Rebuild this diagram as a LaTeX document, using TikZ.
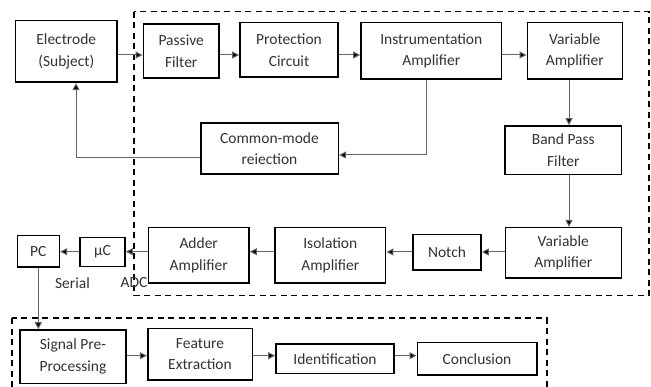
\documentclass[tikz,border=0pt]{standalone}
\usepackage{fontspec}
\setmainfont{Carlito}
\usetikzlibrary{arrows.meta}
\begin{document}
\begin{tikzpicture}[x=1pt,y=-1pt,
  box/.style={draw=black, line width=1.6pt, rectangle, align=center, inner sep=0pt,
    font=\fontsize{15.5}{21.5}\selectfont, text=black!80},
  conn/.style={draw=black!60, line width=1pt, -{Triangle[length=7pt,width=7pt,fill=black]}},
  dbox/.style={draw=black, line width=1.6pt, dash pattern=on 6pt off 4.5pt},
  lbl/.style={font=\fontsize{15.5}{21.5}\selectfont, text=black!80, inner sep=0pt}]
\clip (0,0) rectangle (651,387);
\fill[white] (0,0) rectangle (651,387);
% dashed groups
\draw[dbox] (134,11.7) rectangle (649,295.5);
\draw[dbox] (11.7,318.3) rectangle (546.7,400);
% boxes
\node[box, minimum width=101.3pt, minimum height=61.6pt] (el) at (66.3,51.5) {Electrode\\(Subject)};
\node[box, minimum width=75.7pt, minimum height=54pt] (pf) at (181.2,51.3) {Passive\\Filter};
\node[box, minimum width=98pt, minimum height=54.6pt] (pc1) at (289,50) {Protection\\Circuit};
\node[box, minimum width=140.7pt, minimum height=56.3pt] (ia) at (431.3,50.8) {Instrumentation\\Amplifier};
\node[box, minimum width=95pt, minimum height=56.3pt] (va1) at (574.8,50.8) {Variable\\Amplifier};
\node[box, minimum width=116.7pt, minimum height=48.3pt] (bp) at (563.3,150.2) {Band Pass\\Filter};
\node[box, minimum width=137.6pt, minimum height=51pt] (cm) at (269.5,148.8) {Common-mode\\reiection};
\node[box, minimum width=116pt, minimum height=50.6pt] (va2) at (563.3,253) {Variable\\Amplifier};
\node[box, minimum width=68pt, minimum height=35.7pt] (no) at (447,252.2) {Notch};
\node[box, minimum width=110.7pt, minimum height=55.6pt] (iso) at (330.3,255.5) {Isolation\\Amplifier};
\node[box, minimum width=100.7pt, minimum height=55.6pt] (ad) at (198.7,255.5) {Adder\\Amplifier};
\node[box, minimum width=45pt, minimum height=29pt] (mc) at (102.5,252.2) {µC};
\node[box, minimum width=42pt, minimum height=31.6pt] (pc) at (38.3,251.5) {PC};
\node[box, minimum width=106pt, minimum height=53.3pt] (sp) at (73,356.7) {Signal Pre-\\Processing};
\node[box, minimum width=104.6pt, minimum height=51.7pt] (fe) at (200,354.2) {Feature\\Extraction};
\node[box, minimum width=118pt, minimum height=29.3pt] (id) at (335,358.7) {Identification};
\node[box, minimum width=119.4pt, minimum height=32.7pt] (co) at (477,358.7) {Conclusion};
% labels
\node[lbl] (ser) at (72.5,283) {Serial};
\node[lbl] (adc) at (134,283) {ADC};
% coordinates
\coordinate (iaDown) at (426.7,155);
\coordinate (cmLeft) at (76,157.3);
% connectors top row
\draw[conn] (el.east |- 0,55) -- (pf.west |- 0,55);
\draw[conn] (pf.east |- 0,55) -- (pc1.west |- 0,55);
\draw[conn] (pc1.east |- 0,55) -- (ia.west |- 0,55);
\draw[conn] (ia.east |- 0,55) -- (va1.west |- 0,55);
\draw[conn] (va1.south -| 569,0) -- (bp.north -| 569,0);
\draw[conn] (bp.south -| 569,0) -- (va2.north -| 569,0);
% feedback
\draw[conn] (ia.south -| iaDown) -- (iaDown) -- (cm.east |- iaDown);
\draw[conn] (cm.west |- cmLeft) -- (cmLeft) -- (el.south -| cmLeft);
% lower row
\draw[conn] (va2.west |- 0,252) -- (no.east |- 0,252);
\draw[conn] (no.west |- 0,252) -- (iso.east |- 0,252);
\draw[conn] (iso.west |- 0,251.7) -- (ad.east |- 0,251.7);
\draw[conn] (ad.west |- 0,251.7) -- (mc.east |- 0,251.7);
\draw[conn] (mc.west |- 0,251.7) -- (pc.east |- 0,251.7);
\draw[conn] (pc.south) -- (sp.north -| pc.south);
% bottom row
\draw[conn] (sp.east |- 0,355.7) -- (fe.west |- 0,355.7);
\draw[conn] (fe.east |- 0,355.7) -- (id.west |- 0,355.7);
\draw[conn] (id.east |- 0,355.7) -- (co.west |- 0,355.7);
\end{tikzpicture}
\end{document}
